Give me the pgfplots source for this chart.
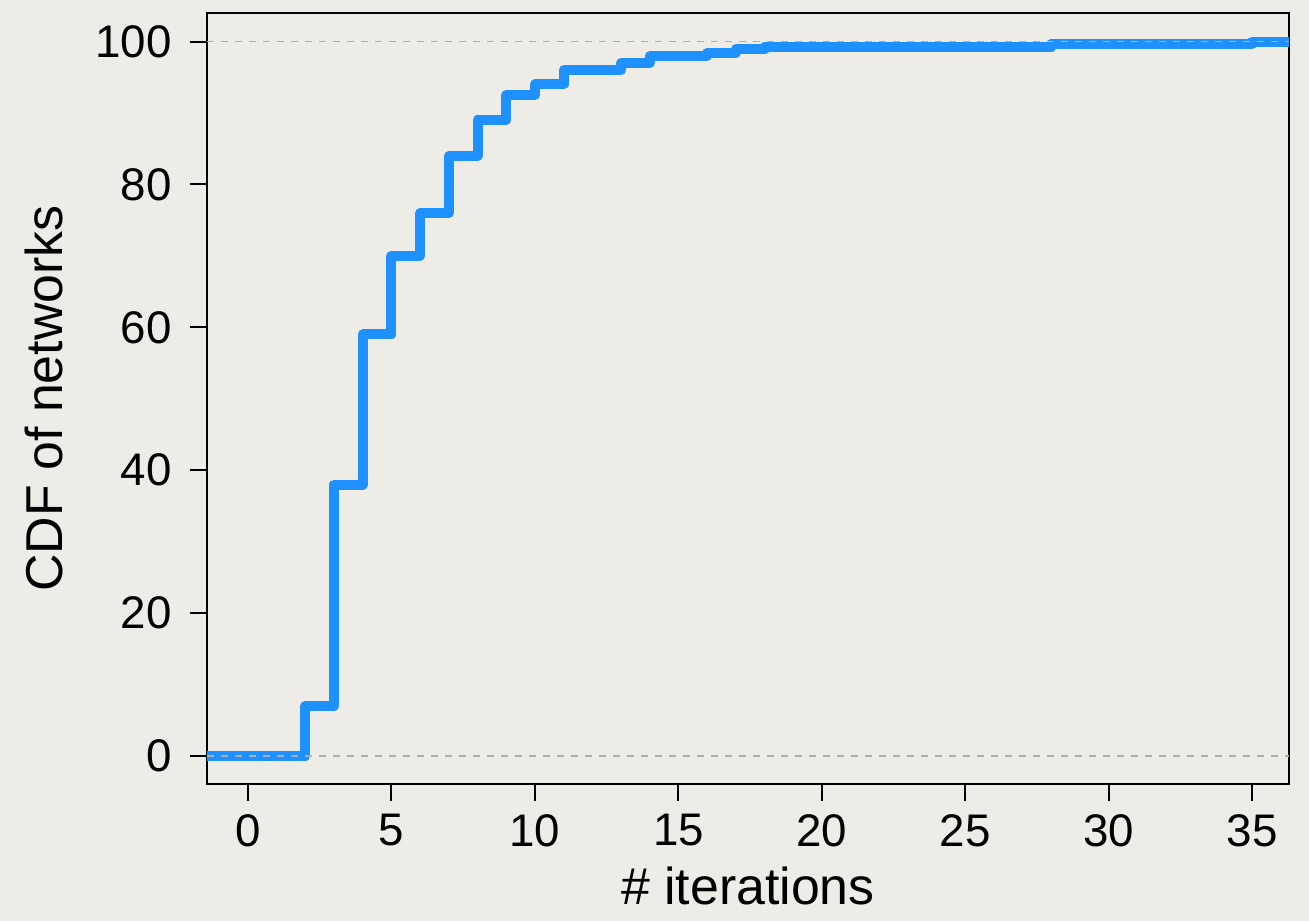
\documentclass[border=0pt]{standalone}
\usepackage{pgfplots}
\pgfplotsset{compat=1.18}
\usepackage{fontspec}
\setmainfont{Liberation Sans}
\definecolor{bgc}{RGB}{238,236,231}
\definecolor{cdfblue}{RGB}{30,144,255}
\definecolor{gridc}{RGB}{175,175,175}
\pagecolor{bgc}

% iterations needed -> cumulative share of networks (%)
\pgfplotstableread{
x      y
-1.43  0
2      7
3      38
4      59
5      70
6      76
7      84
8      89
9      92.5
10     94
11     96
13     97
14     98
16     98.4
17     98.9
18     99.2
28     99.6
35     100
36.28  100
}\cdfdata

\begin{document}
\begin{tikzpicture}
\begin{axis}[
  scale only axis, width=216.4mm, height=154.2mm,
  xmin=-1.43, xmax=36.28, ymin=-3.92, ymax=104.0,
  xtick={0,5,...,35}, ytick={0,20,...,100},
  tick align=outside, major tick length=3.4mm,
  tick style={line width=0.4mm, black},
  axis line style={line width=0.4mm},
  xtick pos=bottom, ytick pos=left,
  /pgf/number format/assume math mode=true,
  tick label style={font=\fontsize{26}{30}\selectfont},
  xticklabel style={yshift=-1.4mm},
  yticklabel style={xshift=-2.4mm},
  label style={font=\fontsize{29.5}{34}\selectfont},
  xlabel={\# iterations}, ylabel={CDF of networks},
  x label style={at={(axis description cs:0.5,-0.156)}, anchor=base, inner sep=0pt},
  y label style={at={(axis description cs:-0.134,0.5)}, anchor=base},
  clip=true,
]
\addplot[const plot, color=cdfblue, line width=2mm, line join=round, line cap=round] table[x=x, y=y] {\cdfdata};
\draw[gridc, line width=0.3mm, dash pattern=on 1.4mm off 1.4mm] (axis cs:-1.43,0) -- (axis cs:36.28,0);
\draw[gridc, line width=0.3mm, dash pattern=on 1.4mm off 1.4mm] (axis cs:-1.43,100) -- (axis cs:36.28,100);
\end{axis}
\pgfresetboundingbox
\path[use as bounding box] ([shift={(-41.4mm,-27.4mm)}]current axis.south west) rectangle ([shift={(4mm,2.6mm)}]current axis.north east);
\end{tikzpicture}
\end{document}
